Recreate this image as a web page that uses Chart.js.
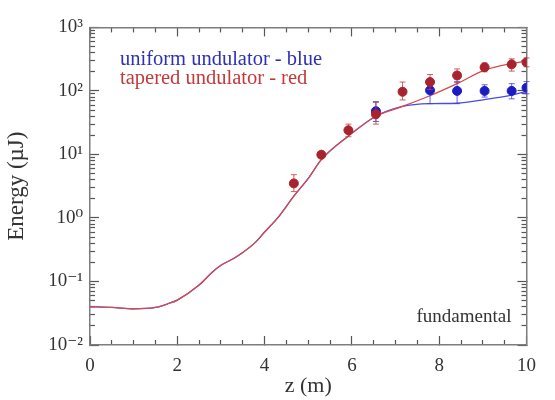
<!DOCTYPE html>
<html>
<head>
<title>Energy vs z</title>
<script src="https://cdn.jsdelivr.net/npm/chart.js"></script>
<style>
  body { margin: 0; background: #fff; }
  #wrap { width: 555px; height: 400px; }
</style>
</head>
<body>
<div id="wrap"><canvas id="myChart"></canvas></div>
<script>
// simulation curves
const zCurve = [0, 0.5, 1.0, 1.5, 1.8, 2.0, 2.5, 2.8, 3.0, 3.3, 3.5, 3.8, 4.0, 4.3, 4.67, 5.0, 5.3, 5.92, 6.55, 7.16, 7.79, 8.41, 9.04, 9.66, 10.0];
const taperedCurve = [0.040, 0.039, 0.037, 0.039, 0.045, 0.051, 0.088, 0.140, 0.180, 0.232, 0.285, 0.42, 0.60, 1.0, 2.2, 4.2, 8.3, 19.5, 40, 57, 84, 130, 212, 270, 295];
const uniformCurve = [0.040, 0.039, 0.037, 0.039, 0.045, 0.051, 0.088, 0.140, 0.180, 0.232, 0.285, 0.42, 0.60, 1.0, 2.2, 4.2, 8.3, 19.5, 40, 57, 63, 64, 73, 86, 98];

// measurements
const zRed = [4.67, 5.30, 5.92, 6.55, 7.16, 7.79, 8.41, 9.04, 9.66, 10.0];
const redE = [3.5, 9.9, 24, 43, 97, 138, 175, 236, 262, 282];
const redLo = [2.6, 9.0, 19, 30, 72, 105, 135, 200, 205, 240];
const redHi = [4.8, 11, 30, 66, 138, 181, 222, 275, 320, 330];

const zBlue = [6.55, 7.79, 8.41, 9.04, 9.66, 10.0];
const blueE = [48, 102, 100, 100, 100, 112];
const blueLo = [33, 63, 63, 80, 75, 90];
const blueHi = [68, 140, 140, 125, 130, 140];

const xTicks = [0, 2, 4, 6, 8, 10];
const xMinorTicks = [0.5, 1, 1.5, 2.5, 3, 3.5, 4.5, 5, 5.5, 6.5, 7, 7.5, 8.5, 9, 9.5];
const yTicks = [0.01, 0.1, 1, 10, 100, 1000];
const yTickLabels = ['10⁻²', '10⁻¹', '10⁰', '10¹', '10²', '10³'];
const yMinorSteps = [2, 3, 4, 5, 6, 7, 8, 9];
const yMinorTicks = yTicks.slice(0, -1).flatMap(d => yMinorSteps.map(m => d * m));

const SERIF = '"Liberation Serif", "DejaVu Serif", serif';
const FRAME = '#7d7d7d';
const TICK = '#555555';

function pts(xs, ys) {
    return xs.map((x, i) => ({ x: x, y: ys[i] }));
}

// an axis that only draws inward tick marks (and optionally the frame edge)
function tickAxis(kind, position, values, len, weight, frame) {
    const isX = kind === 'x';
    return {
        type: isX ? 'linear' : 'logarithmic',
        position: position,
        weight: weight,
        min: isX ? 0 : 0.01,
        max: isX ? 10 : 1000,
        afterBuildTicks: s => { s.ticks = values.map(v => ({ value: v })); },
        afterFit: s => { if (isX) s.height = 0; else s.width = 0; },
        grid: { display: true, drawOnChartArea: false, drawTicks: true, tickLength: -len, tickColor: TICK, tickWidth: 1.2 },
        border: { display: frame, color: FRAME, width: 1.5 },
        ticks: { display: false, autoSkip: false },
    };
}

// vertical error bars, drawn under each point dataset
const errorBars = {
    id: 'errorBars',
    beforeDatasetDraw(chart, args) {
        const ds = chart.data.datasets[args.index];
        if (!ds.errLo) return;
        const c = chart.ctx;
        const xs = chart.scales.x;
        const ys = chart.scales.y;
        c.save();
        c.strokeStyle = ds.errColor;
        c.lineWidth = 1;
        c.beginPath();
        ds.data.forEach((p, i) => {
            const px = xs.getPixelForValue(p.x);
            const y1 = ys.getPixelForValue(ds.errLo[i]);
            const y2 = ys.getPixelForValue(ds.errHi[i]);
            c.moveTo(px, y1); c.lineTo(px, y2);
            c.moveTo(px - 3, y1); c.lineTo(px + 3, y1);
            c.moveTo(px - 3, y2); c.lineTo(px + 3, y2);
        });
        c.stroke();
        c.restore();
    }
};

// text labels inside the plot
const notes = {
    id: 'notes',
    afterDraw(chart) {
        const c = chart.ctx;
        const a = chart.chartArea;
        c.save();
        c.font = '20.5px ' + SERIF;
        c.textBaseline = 'alphabetic';
        c.textAlign = 'left';
        c.fillStyle = '#2f2fb8';
        c.fillText('uniform undulator - blue', a.left + 30, a.top + 38);
        c.fillStyle = '#c23a3a';
        c.fillText('tapered undulator - red', a.left + 30, a.top + 57);
        c.fillStyle = '#333';
        c.textAlign = 'right';
        c.font = '19px ' + SERIF;
        c.fillText('fundamental', a.right - 15, a.bottom - 23);
        c.restore();
    }
};

const ctx = document.getElementById('myChart').getContext('2d');
const myChart = new Chart(ctx, {
    type: 'line',
    data: {
        datasets: [
            {
                label: 'tapered (points)',
                data: pts(zRed, redE),
                xAxisID: 'x',
                yAxisID: 'y',
                showLine: false,
                pointRadius: 4.5,
                pointBackgroundColor: '#a8232e',
                pointBorderColor: '#a8232e',
                errLo: redLo,
                errHi: redHi,
                errColor: 'rgba(190,60,60,0.8)',
                order: 0,
            },
            {
                label: 'uniform (points)',
                data: pts(zBlue, blueE),
                xAxisID: 'x',
                yAxisID: 'y',
                showLine: false,
                pointRadius: 4.5,
                pointBackgroundColor: '#1c1cc4',
                pointBorderColor: '#1c1cc4',
                errLo: blueLo,
                errHi: blueHi,
                errColor: 'rgba(60,60,220,0.8)',
                order: 1,
            },
            {
                label: 'tapered',
                data: pts(zCurve, taperedCurve),
                xAxisID: 'x',
                yAxisID: 'y',
                borderColor: '#d84a4a',
                borderWidth: 1.3,
                pointRadius: 0,
                fill: false,
                cubicInterpolationMode: 'monotone',
                order: 2,
            },
            {
                label: 'uniform',
                data: pts(zCurve, uniformCurve),
                xAxisID: 'x',
                yAxisID: 'y',
                borderColor: '#4a4ae8',
                borderWidth: 1.3,
                pointRadius: 0,
                fill: false,
                cubicInterpolationMode: 'monotone',
                order: 3,
            },
        ],
    },
    options: {
        responsive: true,
        maintainAspectRatio: false,
        animation: false,
        layout: { padding: { top: 24, right: 12, left: 0, bottom: 0 } },
        plugins: {
            legend: { display: false },
            tooltip: { enabled: false },
        },
        scales: {
            x: {
                type: 'linear',
                position: 'bottom',
                weight: 1,
                min: 0,
                max: 10,
                afterBuildTicks: s => { s.ticks = xTicks.map(v => ({ value: v })); },
                afterFit: s => { s.height = 55; },
                grid: { display: true, drawOnChartArea: false, drawTicks: true, tickLength: -9, tickColor: TICK, tickWidth: 1.2 },
                border: { display: true, color: FRAME, width: 1.5 },
                ticks: {
                    color: '#333',
                    padding: 19,
                    font: { family: SERIF, size: 19 },
                },
                title: {
                    display: true,
                    text: 'z (m)',
                    color: '#333',
                    font: { family: SERIF, size: 22 },
                    padding: { top: 0, bottom: 1 },
                },
            },
            y: {
                type: 'logarithmic',
                position: 'left',
                weight: 1,
                min: 0.01,
                max: 1000,
                afterBuildTicks: s => { s.ticks = yTicks.map(v => ({ value: v })); },
                afterFit: s => { s.width = 90; },
                grid: { display: true, drawOnChartArea: false, drawTicks: true, tickLength: -9, tickColor: TICK, tickWidth: 1.2 },
                border: { display: true, color: FRAME, width: 1.5 },
                ticks: {
                    color: '#333',
                    padding: 16,
                    autoSkip: false,
                    font: { family: SERIF, size: 19 },
                    callback: (v) => {
                        const i = yTicks.findIndex(t => Math.abs(t - v) < t * 1e-6);
                        return i >= 0 ? yTickLabels[i] : '';
                    },
                },
                title: {
                    display: true,
                    text: 'Energy (µJ)',
                    color: '#333',
                    font: { family: SERIF, size: 23 },
                    padding: { top: 3, bottom: 0 },
                },
            },
            xMinor: tickAxis('x', 'bottom', xMinorTicks, 5, 0, false),
            xTop: tickAxis('x', 'top', xTicks, 9, 1, true),
            xTopMinor: tickAxis('x', 'top', xMinorTicks, 5, 0, false),
            yMinor: tickAxis('y', 'left', yMinorTicks, 5, 0, false),
            yRight: tickAxis('y', 'right', yTicks, 9, 1, true),
            yRightMinor: tickAxis('y', 'right', yMinorTicks, 5, 0, false),
        },
    },
    plugins: [errorBars, notes],
});
</script>
</body>
</html>
